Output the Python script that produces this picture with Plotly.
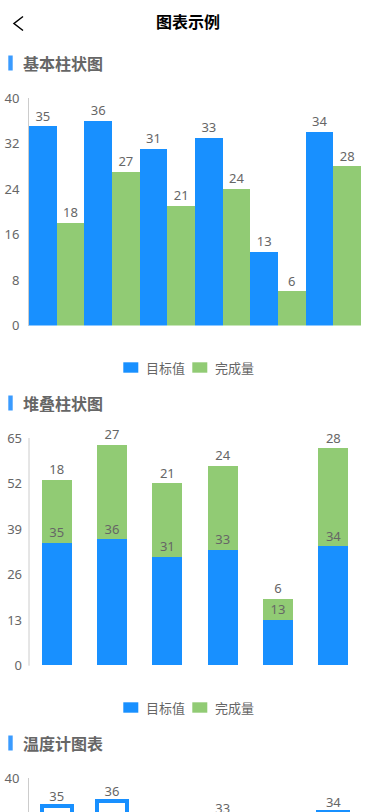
import plotly.graph_objects as go

# ---- data ----
categories = ["2018", "2019", "2020", "2021", "2022", "2023"]
target_name = "目标值"
done_name = "完成量"
target_values = [35, 36, 31, 33, 13, 34]
done_values = [18, 27, 21, 24, 6, 28]

page_title = "图表示例"
section_titles = ["基本柱状图", "堆叠柱状图", "温度计图表"]

BLUE = "#1890FF"
GREEN = "#91CB74"
GRAY = "#666666"
FONT = "Noto Sans CJK SC, Noto Sans, sans-serif"
NUM_FONT = "Noto Sans, Open Sans, sans-serif"

W, H = 375, 812


def px_x(v):
    return v / W


def px_y(v):
    return 1 - v / H


fig = go.Figure()
label_font = dict(color=GRAY, size=13, family=NUM_FONT)
idx = list(range(len(categories)))
no_line = dict(width=0)

# pixel scales (px per unit)
scale1 = 227.5 / 40.0
scale2 = 227.7 / 65.0
scale3 = scale1
LIFT_PX = 9.0

# ---- chart 1: basic column ----
fig.add_trace(go.Bar(
    x=idx, y=target_values, name=target_name, marker=dict(color=BLUE, line=no_line),
    width=0.5, offset=-0.5, xaxis="x", yaxis="y", showlegend=False, hoverinfo="skip",
))
fig.add_trace(go.Bar(
    x=idx, y=done_values, name=done_name, marker=dict(color=GREEN, line=no_line),
    width=0.5, offset=0, xaxis="x", yaxis="y", showlegend=False, hoverinfo="skip",
))
fig.add_trace(go.Scatter(
    x=[i - 0.25 for i in idx], y=[v + LIFT_PX / scale1 for v in target_values],
    mode="text", text=[str(v) for v in target_values], textposition="middle center",
    textfont=label_font, cliponaxis=False, xaxis="x", yaxis="y",
    showlegend=False, hoverinfo="skip",
))
fig.add_trace(go.Scatter(
    x=[i + 0.25 for i in idx], y=[v + LIFT_PX / scale1 for v in done_values],
    mode="text", text=[str(v) for v in done_values], textposition="middle center",
    textfont=label_font, cliponaxis=False, xaxis="x", yaxis="y",
    showlegend=False, hoverinfo="skip",
))

# ---- chart 2: stacked column ----
stack_tops = [t + d for t, d in zip(target_values, done_values)]
fig.add_trace(go.Bar(
    x=categories, y=done_values, base=target_values, name=done_name,
    marker=dict(color=GREEN, line=no_line),
    width=0.54, xaxis="x2", yaxis="y2", showlegend=False, hoverinfo="skip",
))
fig.add_trace(go.Bar(
    x=categories, y=target_values, name=target_name, marker=dict(color=BLUE, line=no_line),
    width=0.54, xaxis="x2", yaxis="y2", showlegend=False, hoverinfo="skip",
))
fig.add_trace(go.Scatter(
    x=categories, y=[v + LIFT_PX / scale2 for v in target_values],
    mode="text", text=[str(v) for v in target_values], textposition="middle center",
    textfont=label_font, cliponaxis=False, xaxis="x2", yaxis="y2",
    showlegend=False, hoverinfo="skip",
))
fig.add_trace(go.Scatter(
    x=categories, y=[v + LIFT_PX / scale2 for v in stack_tops],
    mode="text", text=[str(v) for v in done_values], textposition="middle center",
    textfont=label_font, cliponaxis=False, xaxis="x2", yaxis="y2",
    showlegend=False, hoverinfo="skip",
))

# ---- chart 3: thermometer ----
y3_top_px = 778
y3_low = 40 - (H - y3_top_px) / scale3
lift3 = 8.5 / scale3

fig.add_trace(go.Bar(
    x=categories, y=target_values, name=target_name,
    marker=dict(color="#FFFFFF", line=dict(color=BLUE, width=4)),
    width=0.54, xaxis="x3", yaxis="y3", showlegend=False, hoverinfo="skip",
))
fig.add_trace(go.Bar(
    x=categories, y=done_values, name=done_name, marker=dict(color=GREEN, line=no_line),
    width=0.4, xaxis="x3", yaxis="y3", showlegend=False, hoverinfo="skip",
))
vis3 = [i for i, v in enumerate(target_values) if v + lift3 >= y3_low]
fig.add_trace(go.Scatter(
    x=[categories[i] for i in vis3], y=[target_values[i] + lift3 for i in vis3],
    mode="text", text=[str(target_values[i]) for i in vis3], textposition="middle center",
    textfont=label_font, cliponaxis=False, xaxis="x3", yaxis="y3",
    showlegend=False, hoverinfo="skip",
))

xdom = [px_x(29), px_x(361)]
xcommon = dict(domain=xdom, showticklabels=False, showgrid=False, zeroline=False,
               showline=False, ticks="", range=[-0.5, 5.5], fixedrange=True)
ycommon = dict(showgrid=False, zeroline=False, showline=True, linecolor="#CCCCCC",
               linewidth=1, ticks="", ticklabelstandoff=6,
               tickfont=dict(color=GRAY, size=13, family=NUM_FONT), fixedrange=True)

# chart 2 range extended a little above 65 so the top labels stay in range
y2_extra = 3.0
y2_top_px = 438 - y2_extra * scale2

shapes = [
    dict(type="path", xref="paper", yref="paper",
         path=f"M {px_x(23)},{px_y(16.5)} L {px_x(14)},{px_y(23.5)} L {px_x(23)},{px_y(30.5)}",
         line=dict(color="#000000", width=1.5)),
    # y-axis line of chart 2 (stops at the 65 tick)
    dict(type="line", xref="paper", yref="paper", x0=px_x(29), x1=px_x(29),
         y0=px_y(665.7), y1=px_y(438), line=dict(color="#CCCCCC", width=1)),
]
for cy in [63, 403, 743]:
    shapes.append(dict(type="rect", xref="paper", yref="paper",
                       x0=px_x(8.3), x1=px_x(12.7), y0=px_y(cy - 7.5), y1=px_y(cy + 7.5),
                       fillcolor="#3A9BFF", line=dict(width=0)))

annotations = [
    dict(text=f"<b>{page_title}</b>", x=0.5, y=px_y(21), xref="paper", yref="paper",
         xanchor="center", yanchor="middle", showarrow=False,
         font=dict(size=16, color="#000000", family=FONT)),
]
for t, cy in zip(section_titles, [63, 403, 743]):
    annotations.append(dict(text=f"<b>{t}</b>", x=px_x(21), y=px_y(cy), xref="paper", yref="paper",
                            xanchor="left", yanchor="middle", showarrow=False,
                            font=dict(size=16, color=GRAY, family=FONT)))

# legends (key swatches + labels)
legend_items = [(target_name, BLUE, 123.3, 144), (done_name, GREEN, 192.3, 212.5)]
for ly in [367.5, 707.5]:
    for name, col, sx, tx in legend_items:
        shapes.append(dict(type="rect", xref="paper", yref="paper",
                           x0=px_x(sx), x1=px_x(sx + 15), y0=px_y(ly - 5.2), y1=px_y(ly + 5.2),
                           fillcolor=col, line=dict(width=0)))
        annotations.append(dict(text=name, x=px_x(tx), y=px_y(ly), xref="paper", yref="paper",
                                xanchor="left", yanchor="middle", showarrow=False,
                                font=dict(size=13, color=GRAY, family=FONT)))

y2 = dict(ycommon)
y2["showline"] = False

fig.update_layout(
    template="none",
    width=W, height=H, margin=dict(l=0, r=0, t=0, b=0, autoexpand=False),
    paper_bgcolor="#FFFFFF", plot_bgcolor="#FFFFFF", showlegend=False,
    barmode="overlay", bargap=0, font=dict(family=FONT, color=GRAY),
    xaxis=dict(**xcommon, anchor="y"),
    xaxis2=dict(**xcommon, anchor="y2", type="category"),
    xaxis3=dict(**xcommon, anchor="y3", type="category"),
    yaxis=dict(**ycommon, anchor="x", domain=[px_y(325.5), px_y(98)], range=[0, 40], dtick=8),
    yaxis2=dict(**y2, anchor="x2", domain=[px_y(665.7), px_y(y2_top_px)],
                range=[0, 65 + y2_extra], tickvals=[0, 13, 26, 39, 52, 65]),
    yaxis3=dict(**ycommon, anchor="x3", domain=[0, px_y(y3_top_px)], range=[y3_low, 40], dtick=8),
    shapes=shapes, annotations=annotations,
)

fig.write_html("out.html", config={"displayModeBar": False},
               post_script="document.body.style.margin='0px';document.body.style.overflow='hidden';")
